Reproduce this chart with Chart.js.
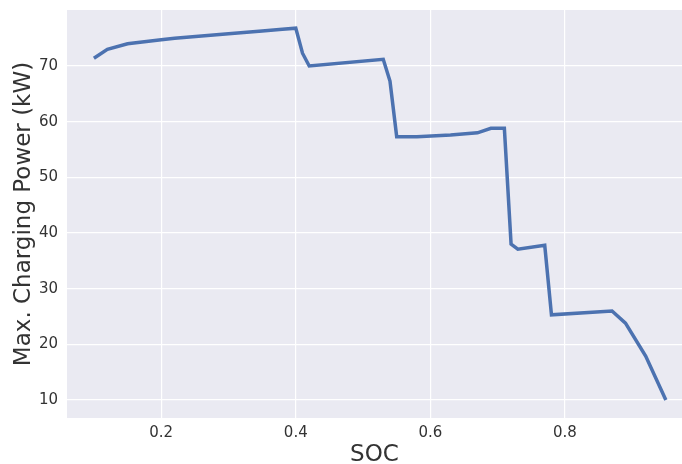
<!DOCTYPE html>
<html>
<head>
<meta charset="utf-8">
<script src="https://cdn.jsdelivr.net/npm/chart.js@4/dist/chart.umd.min.js"></script>
<style>
  html, body { margin: 0; padding: 0; background: #ffffff; }
  #wrap { width: 682px; height: 464px; }
</style>
</head>
<body>
<div id="wrap"><canvas id="powerChart" width="682" height="464"></canvas></div>
<script>
// state of charge vs. maximum charging power
const soc = [0.10, 0.12, 0.15, 0.20, 0.22, 0.26, 0.30, 0.35, 0.38, 0.40, 0.41, 0.42,
             0.53, 0.54, 0.55, 0.58, 0.63, 0.67, 0.69, 0.71, 0.72, 0.73, 0.77, 0.78,
             0.87, 0.89, 0.92, 0.95];
const powerKW = [71.4, 73.0, 74.0, 74.7, 75.0, 75.4, 75.8, 76.3, 76.6, 76.8, 72.3, 70.0,
                 71.2, 67.3, 57.3, 57.3, 57.6, 58.0, 58.8, 58.8, 38.0, 37.1, 37.8, 25.3,
                 26.0, 23.8, 17.9, 10.0];
const xTicks = [0.2, 0.4, 0.6, 0.8];
const yTicks = [10, 20, 30, 40, 50, 60, 70];

const bgPlugin = {
    id: 'plotBackground',
    beforeDraw(chart) {
        const { ctx, chartArea: a } = chart;
        ctx.save();
        ctx.fillStyle = '#EAEAF2';
        ctx.fillRect(a.left, a.top, a.right - a.left, a.bottom - a.top);
        ctx.restore();
    }
};

const tickFont = { family: "'DejaVu Sans', sans-serif", size: 15 };
const titleFont = { family: "'DejaVu Sans', sans-serif", size: 23 };

new Chart(document.getElementById('powerChart').getContext('2d'), {
    type: 'line',
    data: {
        datasets: [{
            data: soc.map((x, i) => ({ x: x, y: powerKW[i] })),
            borderColor: '#4C72B0',
            borderWidth: 3.5,
            pointRadius: 0,
            tension: 0,
            fill: false
        }]
    },
    options: {
        responsive: false,
        animation: false,
        layout: { padding: { top: 10, right: 0, left: 0, bottom: 0 } },
        plugins: { legend: { display: false }, tooltip: { enabled: false } },
        scales: {
            x: {
                type: 'linear',
                min: 0.06,
                max: 0.974,
                afterBuildTicks: s => { s.ticks = xTicks.map(v => ({ value: v })); },
                afterFit: s => { s.height = 46; s.paddingLeft = 0; s.paddingRight = 0; },
                grid: { color: '#ffffff', lineWidth: 1.2, drawTicks: false },
                border: { display: false },
                ticks: {
                    color: '#333333', font: tickFont, padding: 6,
                    callback: v => v.toFixed(1)
                },
                title: {
                    display: true, text: 'SOC', color: '#333333', font: titleFont,
                    padding: { top: 0, bottom: -5 }
                }
            },
            y: {
                min: 6.77,
                max: 80.06,
                afterBuildTicks: s => { s.ticks = yTicks.map(v => ({ value: v })); },
                afterFit: s => { s.width = 67; s.paddingTop = 0; s.paddingBottom = 0; },
                grid: { color: '#ffffff', lineWidth: 1.2, drawTicks: false },
                border: { display: false },
                ticks: { color: '#333333', font: tickFont, padding: 9 },
                title: {
                    display: true, text: 'Max. Charging Power (kW)', color: '#333333',
                    font: titleFont, padding: { top: 10, bottom: 0 }
                }
            }
        }
    },
    plugins: [bgPlugin]
});
</script>
</body>
</html>
